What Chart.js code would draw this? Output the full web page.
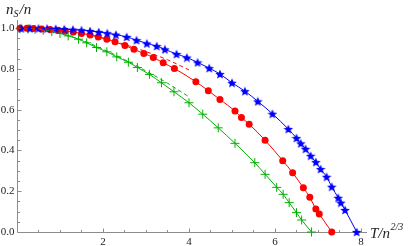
<!DOCTYPE html>
<html>
<head>
<meta charset="utf-8">
<script src="https://cdn.jsdelivr.net/npm/chart.js@4"></script>
<style>
    html, body { margin: 0; padding: 0; background: #fff; }
    #wrap { width: 416px; height: 246px; }
</style>
</head>
<body>
<div id="wrap"><canvas id="nsChart" width="416" height="246"></canvas></div>
<script>
// data
const blueT = [0.1, 0.3, 0.5, 0.7, 0.9, 1.1, 1.3, 1.5, 1.7, 1.9, 2.1, 2.3, 2.55, 2.78, 3.02, 3.25, 3.44, 3.71, 3.95, 4.2, 4.47, 4.72, 5.0, 5.3, 5.6, 5.94, 6.31, 6.5, 6.6, 6.71, 6.83, 6.95, 7.06, 7.2, 7.32, 7.47, 7.53, 7.63, 7.9];
const blueNs = [0.999, 0.999, 0.999, 0.998, 0.997, 0.995, 0.993, 0.99, 0.986, 0.981, 0.975, 0.968, 0.957, 0.941, 0.925, 0.912, 0.896, 0.873, 0.856, 0.832, 0.804, 0.775, 0.732, 0.691, 0.641, 0.58, 0.505, 0.461, 0.435, 0.408, 0.374, 0.343, 0.309, 0.271, 0.222, 0.168, 0.144, 0.108, 0.0];

const redT = [0.07, 0.23, 0.38, 0.57, 0.77, 0.96, 1.12, 1.31, 1.5, 1.7, 1.89, 2.09, 2.28, 2.51, 2.72, 2.95, 3.17, 3.4, 3.66, 4.16, 4.45, 4.72, 5.07, 5.22, 5.4, 5.77, 6.18, 6.41, 6.66, 6.81, 6.95, 7.03, 7.32];
const redNs = [0.999, 0.999, 0.998, 0.996, 0.994, 0.99, 0.986, 0.981, 0.974, 0.967, 0.957, 0.945, 0.933, 0.915, 0.896, 0.876, 0.856, 0.83, 0.802, 0.737, 0.693, 0.65, 0.593, 0.562, 0.529, 0.45, 0.35, 0.291, 0.217, 0.17, 0.113, 0.088, 0.0];

const greenT = [0.07, 0.26, 0.42, 0.61, 0.81, 1.0, 1.19, 1.43, 1.62, 1.85, 2.09, 2.32, 2.59, 2.8, 3.08, 3.36, 3.65, 4.0, 4.32, 4.68, 5.07, 5.53, 5.77, 6.04, 6.19, 6.33, 6.5, 6.62, 6.85];
const greenNs = [0.997, 0.996, 0.994, 0.99, 0.983, 0.974, 0.962, 0.946, 0.928, 0.905, 0.884, 0.859, 0.833, 0.807, 0.773, 0.732, 0.688, 0.634, 0.578, 0.511, 0.435, 0.34, 0.283, 0.219, 0.185, 0.144, 0.095, 0.059, 0.0];

// low temperature approximations (dashed)
const lowT = [0, 0.5, 1, 1.5, 2, 2.5, 3, 3.5, 4];
const redLowNs = [1.0, 0.999, 0.99, 0.975, 0.952, 0.92, 0.885, 0.845, 0.795];
const greenLowNs = [1.0, 0.996, 0.976, 0.942, 0.897, 0.846, 0.79, 0.73, 0.663];

// axis ticks
const xTicks = [2, 4, 6, 8];
const yTicks = [0.0, 0.2, 0.4, 0.6, 0.8, 1.0];

const BLUE = '#0000ff';
const RED = '#ff0000';
const GREEN = '#00b000';

function toPoints(xs, ys) {
    return xs.map((x, i) => ({ x: x, y: ys[i] }));
}

// filled five pointed star as point style
function makeStar(size, color) {
    const c = document.createElement('canvas');
    c.width = size;
    c.height = size;
    const g = c.getContext('2d');
    const cx = size / 2, cy = size / 2 + 0.5;
    const R = size / 2, r = R * 0.45;
    g.beginPath();
    for (let i = 0; i < 10; i++) {
        const a = -Math.PI / 2 + i * Math.PI / 5;
        const rad = i % 2 === 0 ? R : r;
        g.lineTo(cx + rad * Math.cos(a), cy + rad * Math.sin(a));
    }
    g.closePath();
    g.fillStyle = color;
    g.fill();
    return c;
}

const axesPlugin = {
    id: 'mmaAxes',
    beforeDatasetsDraw(chart) {
        const ctx = chart.ctx;
        const xs = chart.scales.x, ys = chart.scales.y;
        const x0 = Math.round(xs.getPixelForValue(0)) + 0.5;
        const y0 = Math.round(ys.getPixelForValue(0)) + 0.5;
        ctx.save();
        ctx.strokeStyle = '#8c8c8c';
        ctx.lineWidth = 1;
        ctx.beginPath();
        ctx.moveTo(x0, y0);
        ctx.lineTo(chart.chartArea.right, y0);
        ctx.moveTo(x0, y0);
        ctx.lineTo(x0, chart.chartArea.top);
        ctx.stroke();

        // x ticks, pointing up
        ctx.beginPath();
        for (let v = 0.5; v <= 8.01; v += 0.5) {
            const px = Math.round(xs.getPixelForValue(v)) + 0.5;
            const len = xTicks.includes(Math.round(v * 10) / 10) ? 4 : 2.5;
            ctx.moveTo(px, y0);
            ctx.lineTo(px, y0 - len);
        }
        // y ticks, pointing right
        for (let v = 0.05; v <= 1.001; v += 0.05) {
            const py = Math.round(ys.getPixelForValue(v)) + 0.5;
            const major = Math.abs(v * 5 - Math.round(v * 5)) < 0.001;
            ctx.moveTo(x0, py);
            ctx.lineTo(x0 + (major ? 4 : 2.5), py);
        }
        ctx.stroke();

        ctx.fillStyle = '#222';
        ctx.font = '11px "Liberation Serif"';
        ctx.textAlign = 'center';
        ctx.textBaseline = 'middle';
        xTicks.forEach(v => {
            ctx.fillText(String(v), xs.getPixelForValue(v), y0 + 9.5);
        });
        ctx.textAlign = 'right';
        yTicks.forEach(v => {
            ctx.fillText(v.toFixed(1), x0 - 3, ys.getPixelForValue(v));
        });

        // axis titles
        ctx.textAlign = 'left';
        ctx.textBaseline = 'alphabetic';
        const big = 'italic 15px "Liberation Serif"';
        const small = 'italic 10px "Liberation Serif"';
        let tx = 6;
        ctx.font = big;
        ctx.fillText('n', tx, 14);
        tx += ctx.measureText('n').width;
        ctx.font = small;
        ctx.fillText('S', tx, 17);
        tx += ctx.measureText('S').width + 1;
        ctx.font = big;
        ctx.fillText('/n', tx, 14);

        tx = 370;
        ctx.fillText('T/n', tx, 238);
        tx += ctx.measureText('T/n').width + 0.5;
        ctx.font = small;
        ctx.fillText('2/3', tx, 230);
        ctx.restore();
    }
};

const starImg = makeStar(10, BLUE);

new Chart(document.getElementById('nsChart').getContext('2d'), {
    type: 'scatter',
    data: {
        datasets: [
            {
                label: 'red low T',
                data: toPoints(lowT, redLowNs),
                showLine: true,
                borderColor: RED,
                borderWidth: 1,
                borderDash: [4, 3],
                pointRadius: 0,
                cubicInterpolationMode: 'monotone'
            },
            {
                label: 'green low T',
                data: toPoints(lowT, greenLowNs),
                showLine: true,
                borderColor: GREEN,
                borderWidth: 1,
                borderDash: [4, 3],
                pointRadius: 0,
                cubicInterpolationMode: 'monotone'
            },
            {
                label: 'blue',
                data: toPoints(blueT, blueNs),
                showLine: true,
                borderColor: BLUE,
                borderWidth: 1,
                backgroundColor: BLUE,
                pointStyle: starImg,
                cubicInterpolationMode: 'monotone',
                clip: false
            },
            {
                label: 'red',
                data: toPoints(redT, redNs),
                showLine: true,
                borderColor: RED,
                borderWidth: 1,
                backgroundColor: RED,
                pointBorderWidth: 0,
                pointRadius: 3.5,
                pointStyle: 'circle',
                cubicInterpolationMode: 'monotone',
                clip: false
            },
            {
                label: 'green',
                data: toPoints(greenT, greenNs),
                showLine: true,
                borderColor: GREEN,
                borderWidth: 1,
                backgroundColor: GREEN,
                pointStyle: 'cross',
                pointRadius: 4.5,
                pointBorderColor: GREEN,
                pointBorderWidth: 1,
                cubicInterpolationMode: 'monotone',
                clip: false
            }
        ]
    },
    options: {
        responsive: false,
        animation: false,
        events: [],
        layout: { padding: { left: 17, right: 49, top: 20, bottom: 14 } },
        plugins: {
            legend: { display: false },
            tooltip: { enabled: false }
        },
        scales: {
            x: { type: 'linear', min: 0, max: 8.14, display: false },
            y: { type: 'linear', min: 0, max: 1.04, display: false }
        }
    },
    plugins: [axesPlugin]
});
</script>
</body>
</html>
